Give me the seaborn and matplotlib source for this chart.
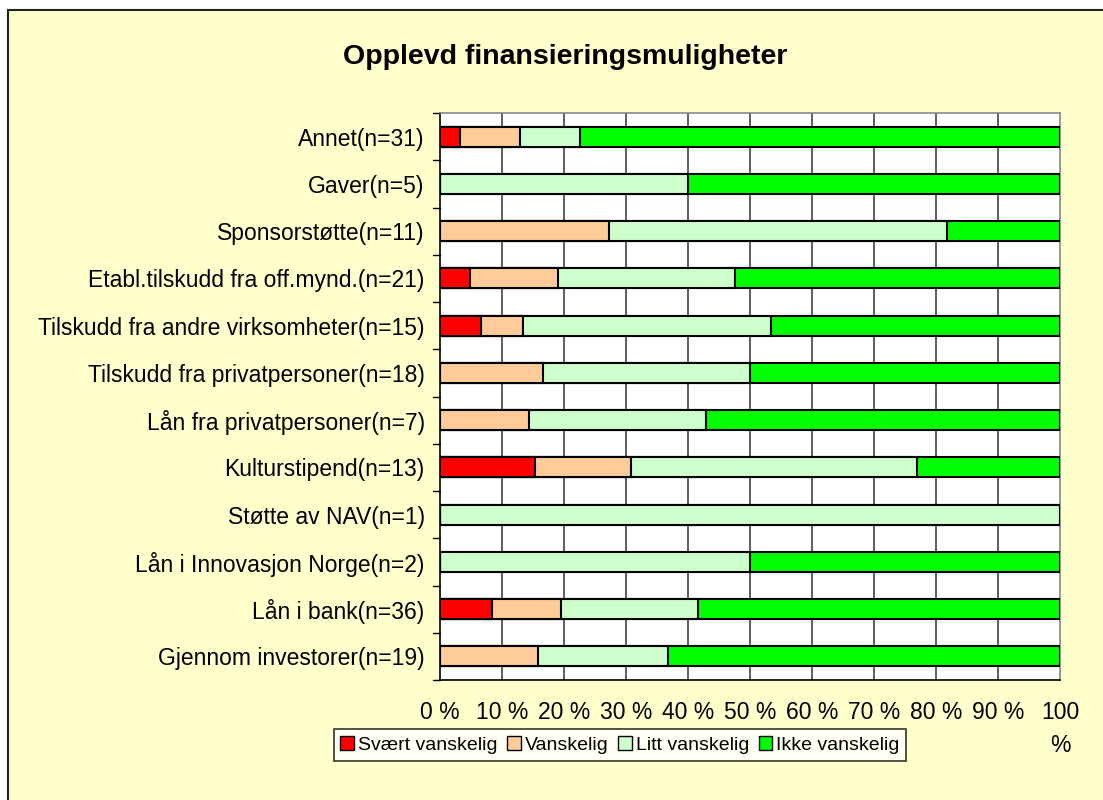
import matplotlib
matplotlib.use("Agg")
from matplotlib import pyplot as plt
from matplotlib.patches import Rectangle
import seaborn as sns
import numpy as np
import pandas as pd

# kategorier (ovenfra og ned) og antall svar per vanskelighetsgrad
categories = [
    "Annet(n=31)",
    "Gaver(n=5)",
    "Sponsorstøtte(n=11)",
    "Etabl.tilskudd fra off.mynd.(n=21)",
    "Tilskudd fra andre virksomheter(n=15)",
    "Tilskudd fra privatpersoner(n=18)",
    "Lån fra privatpersoner(n=7)",
    "Kulturstipend(n=13)",
    "Støtte av NAV(n=1)",
    "Lån i Innovasjon Norge(n=2)",
    "Lån i bank(n=36)",
    "Gjennom investorer(n=19)",
]
svaert_vanskelig = [1, 0, 0, 1, 1, 0, 0, 2, 0, 0, 3, 0]
vanskelig = [3, 0, 3, 3, 1, 3, 1, 2, 0, 0, 4, 3]
litt_vanskelig = [3, 2, 6, 6, 6, 6, 2, 6, 1, 1, 8, 4]
ikke_vanskelig = [24, 3, 2, 11, 7, 9, 4, 3, 0, 1, 21, 12]

series_names = ["Svært vanskelig", "Vanskelig", "Litt vanskelig", "Ikke vanskelig"]
colors = ["#FF0000", "#FFCC99", "#CCFFCC", "#00FF00"]
xtick_labels = ["0 %", "10 %", "20 %", "30 %", "40 %", "50 %",
                "60 %", "70 %", "80 %", "90 %", "100\n%"]

counts = np.array([svaert_vanskelig, vanskelig, litt_vanskelig, ikke_vanskelig], dtype=float)
pct = counts / counts.sum(axis=0) * 100
cum = np.cumsum(pct, axis=0)

df = pd.DataFrame(cum.T, columns=series_names)
df["Kategori"] = categories

sns.set_style("white")
plt.rcParams["font.family"] = ["Liberation Sans", "DejaVu Sans"]
plt.rcParams["text.color"] = "black"
plt.rcParams["xtick.color"] = "black"
plt.rcParams["ytick.color"] = "black"

fig = plt.figure(figsize=(11.03, 8), dpi=100)
fig.patch.set_facecolor("white")

# bakgrunnsramme
bg = fig.add_axes([0, 0, 1, 1], zorder=-5)
bg.set_xlim(0, 1103)
bg.set_ylim(800, 0)
bg.axis("off")
bg.add_patch(Rectangle((8, 10), 1200, 900, facecolor="#FFFFCC",
                       edgecolor="#222222", linewidth=1.5))

ax = fig.add_axes([440 / 1103, 1 - 680 / 800, 620 / 1103, 567 / 800])
ax.set_facecolor("white")

# stablede søyler: tegn kumulative summer bakfra
for name, col in reversed(list(zip(series_names, colors))):
    sns.barplot(data=df, x=name, y="Kategori", orient="h", color=col,
                edgecolor="black", linewidth=1.5, width=0.42, ax=ax,
                saturation=1, zorder=3)

ax.set_xlim(0, 100)
ax.set_ylim(len(categories) - 0.5, -0.5)
ax.set_xticks(np.arange(0, 101, 10))
ax.set_xticklabels(xtick_labels, fontsize=16.5, va="top", linespacing=1.55)
ax.set_yticks(np.arange(len(categories)))
ax.set_yticklabels(categories, fontsize=16.5)
ax.set_xlabel("")
ax.set_ylabel("")

# akselinjer mellom kategorier
ax.tick_params(axis="y", length=0, pad=11)
ax.tick_params(axis="x", length=6, width=1, color="black", pad=9, direction="out")
for yb in np.arange(-0.5, len(categories), 1):
    ax.plot([-0.011, 0], [yb, yb], color="black", lw=1,
            transform=ax.get_yaxis_transform(), clip_on=False)

for xg in np.arange(10, 100, 10):
    ax.axvline(xg, color="#333333", lw=1.1, zorder=1)

for s in ["top", "right"]:
    ax.spines[s].set_color("#888888")
    ax.spines[s].set_linewidth(1.2)
for s in ["left", "bottom"]:
    ax.spines[s].set_color("black")
    ax.spines[s].set_linewidth(1.2)
for s in ax.spines.values():
    s.set_visible(True)

fig.text(565 / 1103, 1 - 57 / 800, "Opplevd finansieringsmuligheter",
         ha="center", va="center", fontsize=20.5, fontweight="bold")

handles = [Rectangle((0, 0), 1, 1, facecolor=c, edgecolor="black", lw=1) for c in colors]
leg = fig.legend(handles, series_names, loc="center", bbox_to_anchor=(620 / 1103, 1 - 745 / 800),
                 ncol=4, fontsize=14, frameon=True, fancybox=False, edgecolor="black",
                 handlelength=0.7, handleheight=0.7, handletextpad=0.2, columnspacing=0.5,
                 borderpad=0.35)
leg.get_frame().set_linewidth(1.2)

fig.savefig("out.png", dpi=100, facecolor=fig.get_facecolor())
